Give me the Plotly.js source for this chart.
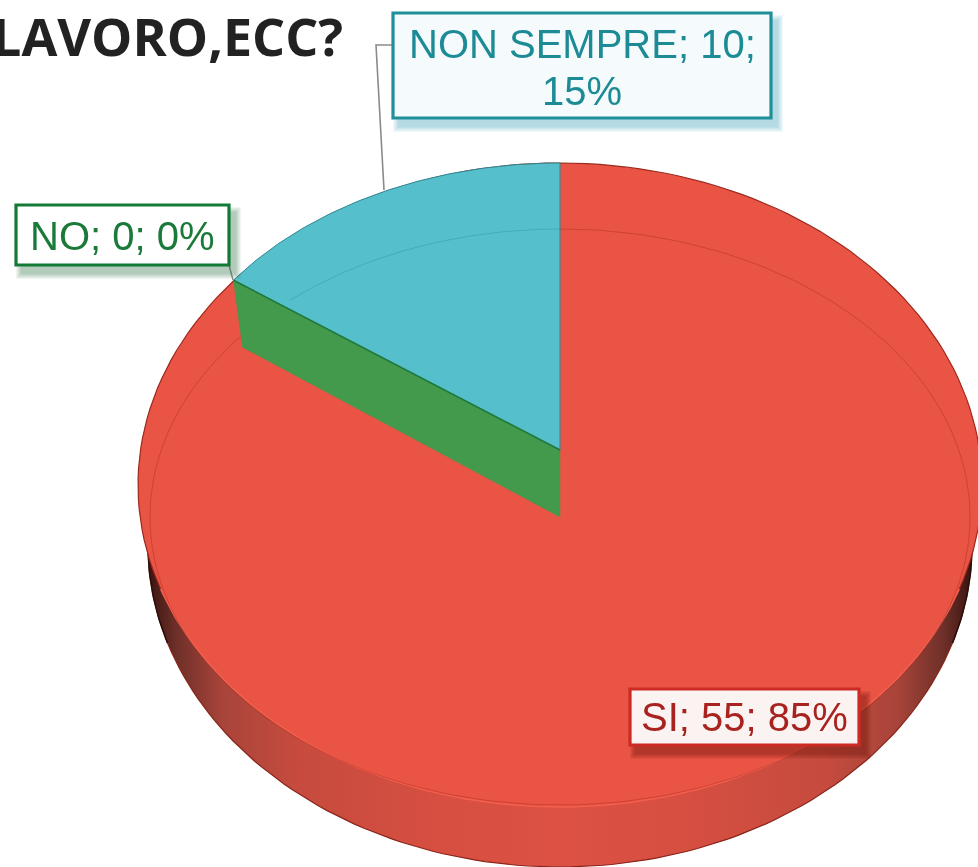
<!DOCTYPE html>
<html>
<head>
<meta charset="utf-8">
<script src="https://cdn.plot.ly/plotly-3.0.1.min.js"></script>
<style>
html,body{margin:0;padding:0;background:#fff;overflow:hidden}
#chart{width:978px;height:867px;filter:blur(0.6px)}
</style>
</head>
<body>
<div id="chart"></div>
<script>
// Data
const categories = ['SI', 'NO', 'NON SEMPRE'];
const values = [55, 0, 10];
const percents = [85, 0, 15];
const titleText = 'LAVORO,ECC?';

// Colours
const RED = '#E95444', GREEN = '#43994C', CYAN = '#55BFCB';

// Projection of the tilted disc, in axis units (axis range equals the page size)
const body = {cx: 560, cy: 485, rx: 422, ry: 322};      // upper outline of the disc
const floor = {cx: 560, cy: 545, rx: 412, ry: 322};     // lower outline of the wall
const inner = {cx: 560, cy: 517, rx: 410, ry: 288};     // faint rim ring
const lift = {cx: 560, cy: 450, rx: 405, ry: 287};      // raised top of NON SEMPRE
const cut = {dx: 9, dy: 67};                            // height of the cut face
const viewWarp = 0.97;                                  // foreshortening of angles

function pt(e, t) { return [e.cx + e.rx * Math.sin(t), e.cy - e.ry * Math.cos(t)]; }
function arc(e, a, b, n) {
  const out = [];
  for (let i = 0; i <= n; i++) out.push(pt(e, a + (b - a) * i / n));
  return out;
}
function trace(points, opts) {
  return Object.assign({
    type: 'scatter', mode: 'lines', hoverinfo: 'skip', showlegend: false,
    x: points.map(p => p[0]), y: points.map(p => p[1])
  }, opts);
}

const total = values.reduce((a, b) => a + b, 0);
const sweep = 2 * Math.PI * values[2] / total * viewWarp;
const edge = pt(lift, -sweep);
const apex = [lift.cx, lift.cy];
const edgeLow = [edge[0] + cut.dx, edge[1] + cut.dy];
const apexLow = [apex[0], apex[1] + cut.dy];

const traces = [
  // side wall
  trace(arc(floor, 0, 2 * Math.PI, 240), {
    name: 'wall', fill: 'toself',
    line: {color: '#8a241a', width: 1.2},
    fillgradient: {type: 'horizontal', colorscale: [
      [0, '#3a1410'], [0.035, '#6e3029'], [0.09, '#a8443a'], [0.18, '#c64b3e'], [0.35, '#d64f41'], [0.5, '#dc5143'],
      [0.65, '#d64f41'], [0.82, '#c64b3e'], [0.91, '#a8443a'], [0.965, '#6e3029'], [1, '#3a1410']
    ]}
  }),
  // black edge at the two ends of the wall
  trace(arc(floor, 1.45, 1.88, 30), {name: 'tipR', line: {color: '#2a0e0a', width: 1.6}}),
  trace(arc(floor, -1.45, -1.88, 30), {name: 'tipL', line: {color: '#2a0e0a', width: 1.6}}),
  // top face (SI)
  trace(arc(body, 0, 2 * Math.PI, 240), {
    name: categories[0], fill: 'toself', fillcolor: RED, line: {color: RED, width: 0}
  }),
  // top-face outline: dark above, light along the lower sides
  trace(arc(body, -1.9, 1.9, 120), {name: 'edgeTop', line: {color: '#9c2a1f', width: 1.2}}),
  trace(arc(body, 1.9, 2 * Math.PI - 1.9, 120), {name: 'edgeLow', line: {color: '#F4604E', width: 1.4}}),
  // faint rim ring
  trace(arc(inner, 0, 2 * Math.PI, 240), {
    name: 'rim', line: {color: 'rgba(170,40,30,0.42)', width: 1}
  }),
  // cut face (NO)
  trace([apex, edge, edgeLow, apexLow, apex], {
    name: categories[1], fill: 'toself', fillcolor: GREEN,
    line: {color: GREEN, width: 0.5}
  }),
  // raised slice (NON SEMPRE)
  trace([apex].concat(arc(lift, -sweep, 0, 80), [apex]), {
    name: categories[2], fill: 'toself', fillcolor: CYAN,
    line: {color: '#2f8791', width: 1}
  }),
  // faint ring seen through the raised slice
  trace(arc(inner, -0.72, 0, 60), {
    name: 'rim2', line: {color: 'rgba(60,150,165,0.5)', width: 1}
  }),
  // dark seam under the raised slice
  trace([edge, apex], {name: 'seam', line: {color: '#1f7a3a', width: 1.6}})
];

// Label boxes
const boxes = [
  {i: 2, x0: 393, x1: 771, y0: 13, y1: 118, line: '#1F8F99', bg: '#F5FBFD', text: '#1C8B95', size: 40,
   shadow: 'rgba(60,160,180,0.07)', lines: [[categories[2] + '; ' + values[2] + ';', 44], [percents[2] + '%', 91]]},
  {i: 1, x0: 16, x1: 229, y0: 205, y1: 265, line: '#137A36', bg: '#FFFFFF', text: '#1B7A3A', size: 40,
   shadow: 'rgba(40,120,70,0.07)', lines: [[categories[1] + '; ' + values[1] + '; ' + percents[1] + '%', 236]]},
  {i: 0, x0: 630, x1: 859, y0: 689, y1: 745, line: '#CC2A22', bg: '#FBF3F2', text: '#A8231F', size: 40,
   shadow: 'rgba(110,20,15,0.09)', lines: [[categories[0] + '; ' + values[0] + '; ' + percents[0] + '%', 717]]}
];

const shapes = [
  {type: 'path', path: 'M 393 45 L 376 45 L 384 190', line: {color: '#8a8a8a', width: 1.6}},
  {type: 'path', path: 'M 229 265 L 233 280', line: {color: '#8a8a8a', width: 1.4}}
];
const annotations = [{
  text: '<b>' + titleText + '</b>', x: 345, y: 35, xref: 'x', yref: 'y', xanchor: 'right', yanchor: 'middle',
  showarrow: false, font: {family: 'Open Sans', size: 52, color: '#222222'}
}];
boxes.forEach(b => {
  for (let k = 6; k >= 1; k--) {
    shapes.push({type: 'rect', x0: b.x0 + 6 - k, x1: b.x1 + 6 + k, y0: b.y0 + 8 - k, y1: b.y1 + 8 + k,
      fillcolor: b.shadow, line: {width: 0}});
  }
  shapes.push({type: 'rect', x0: b.x0, x1: b.x1, y0: b.y0, y1: b.y1, fillcolor: b.bg,
    line: {color: b.line, width: 3.2}});
  b.lines.forEach(l => annotations.push({
    text: l[0], x: (b.x0 + b.x1) / 2, y: l[1], xref: 'x', yref: 'y', xanchor: 'center', yanchor: 'middle',
    showarrow: false, font: {family: 'Liberation Sans', size: b.size, color: b.text}
  }));
});

const layout = {
  width: 978, height: 867, margin: {l: 0, r: 0, t: 0, b: 0},
  paper_bgcolor: '#fff', plot_bgcolor: '#fff', showlegend: false,
  xaxis: {range: [0, 978], visible: false, fixedrange: true},
  yaxis: {range: [867, 0], visible: false, fixedrange: true},
  shapes: shapes, annotations: annotations
};
Plotly.newPlot('chart', traces, layout, {staticPlot: true, displayModeBar: false});
</script>
</body>
</html>
